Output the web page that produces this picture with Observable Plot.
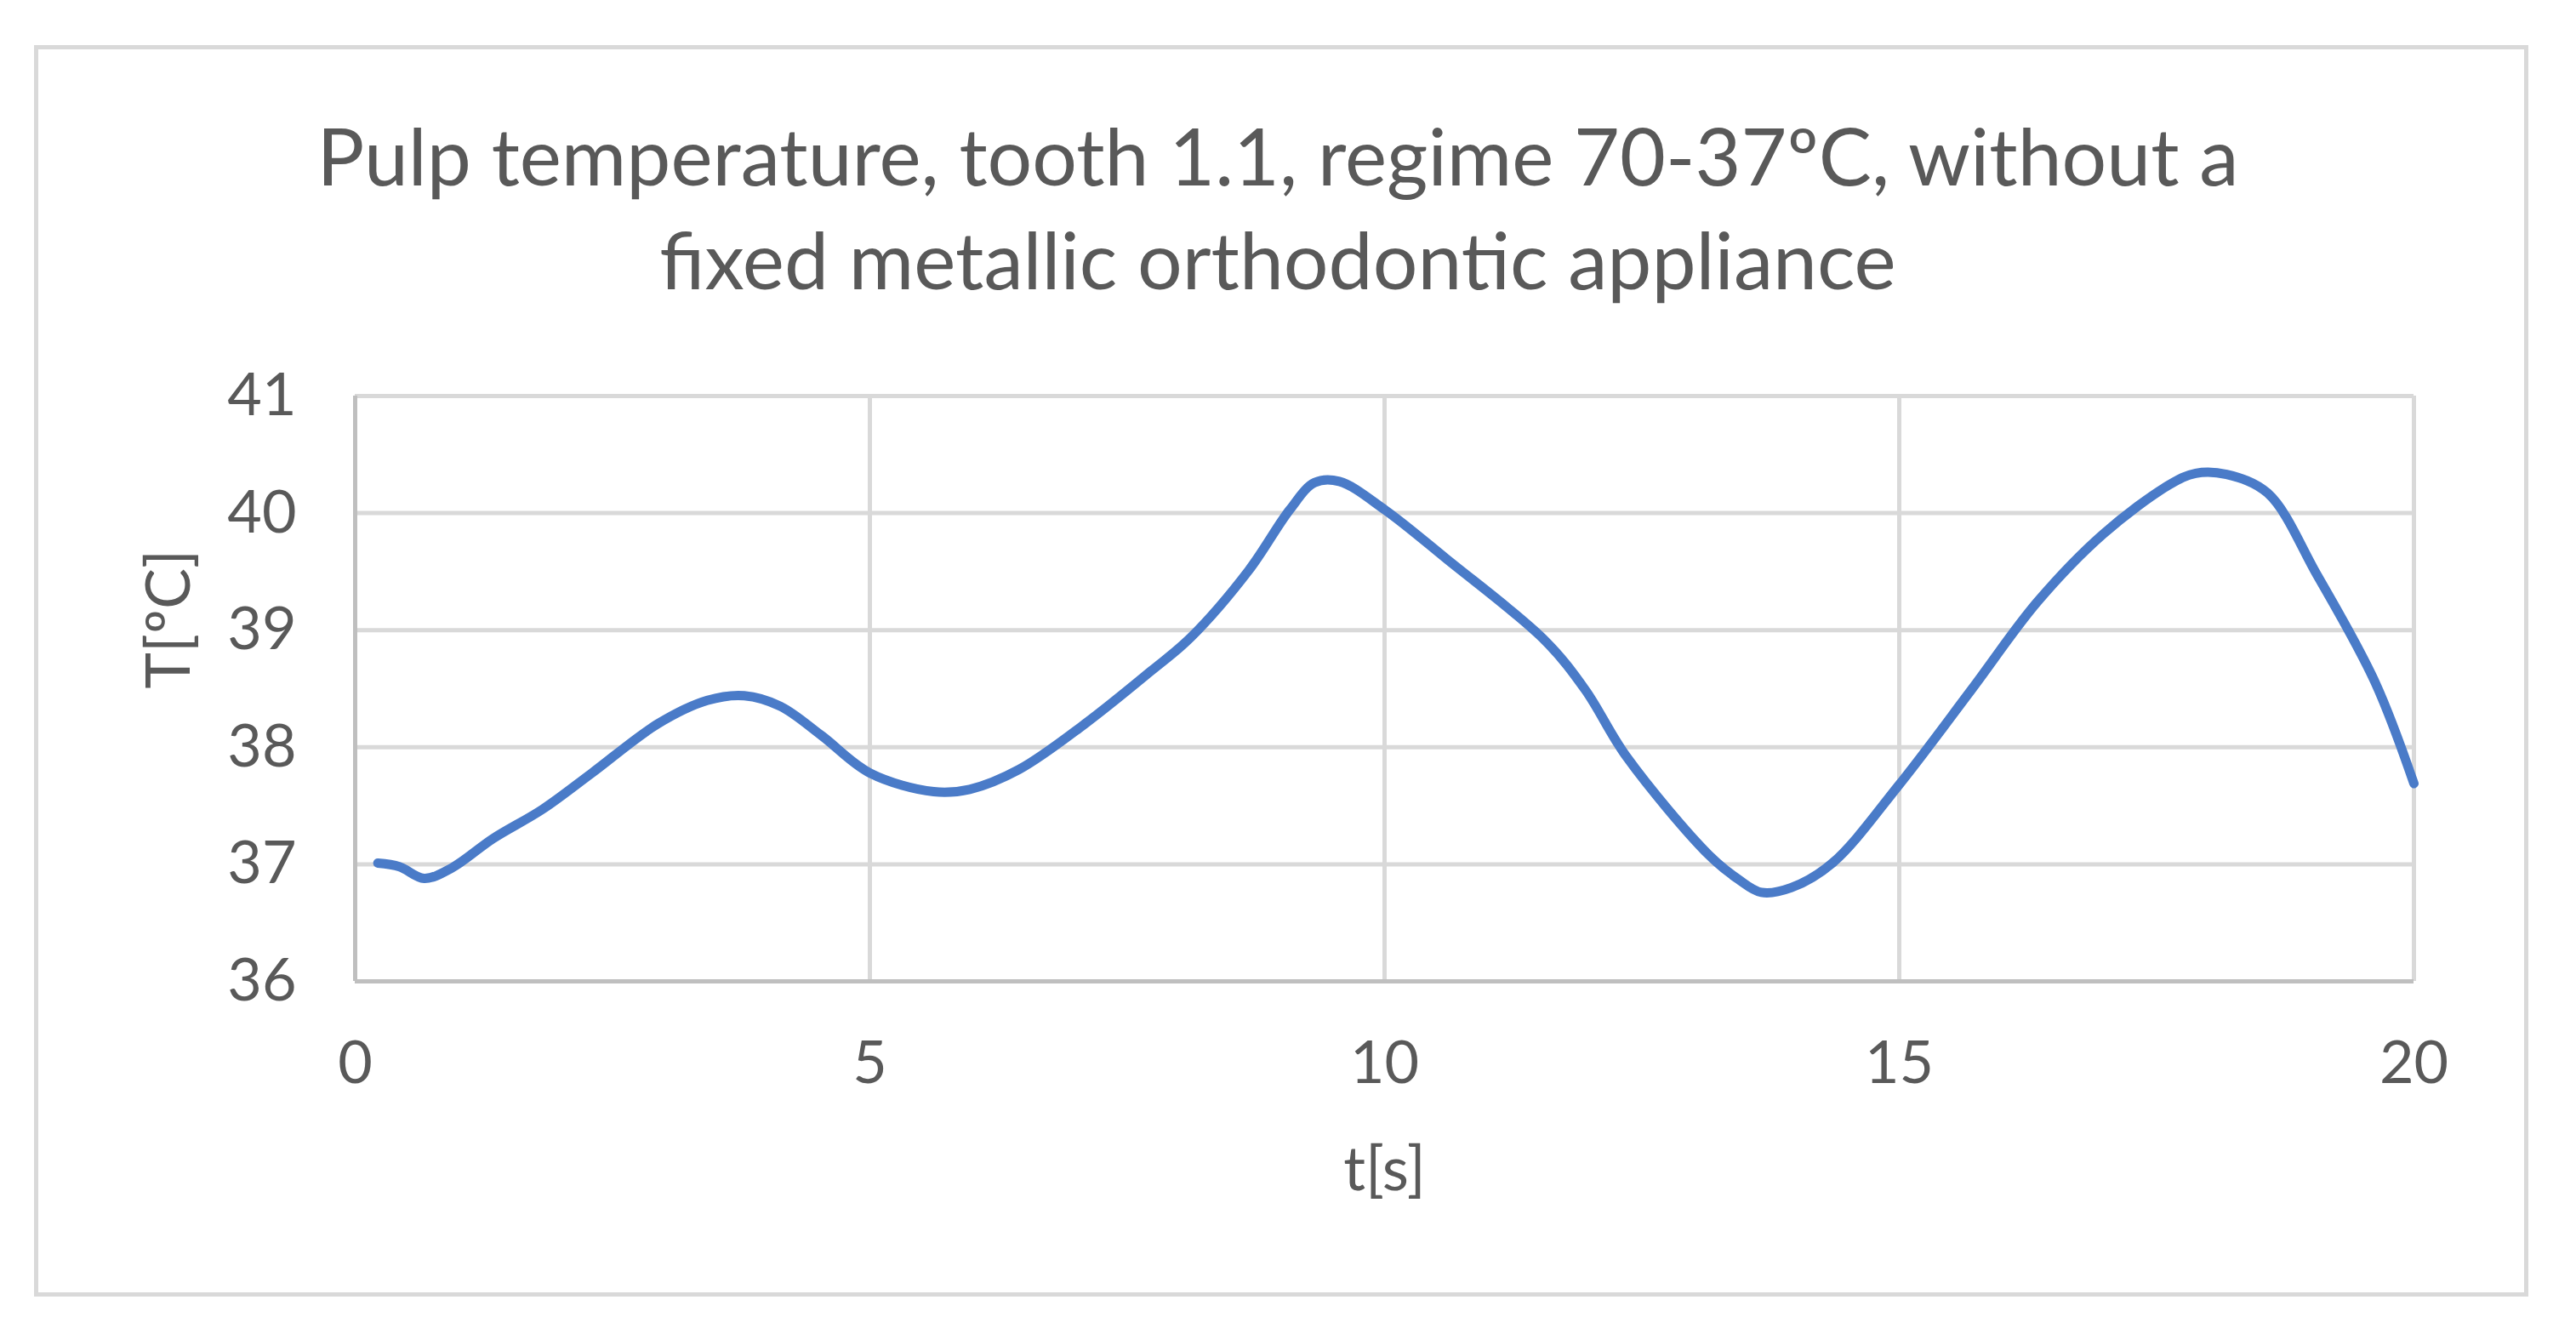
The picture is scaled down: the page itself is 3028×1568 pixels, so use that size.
<!DOCTYPE html>
<html>
<head>
<meta charset="utf-8">
<script src="https://cdn.jsdelivr.net/npm/d3@7"></script>
<script src="https://cdn.jsdelivr.net/npm/@observablehq/plot@0.6"></script>
<style>
  html, body { margin: 0; padding: 0; background: #fff; }
  #page { position: relative; width: 3028px; height: 1568px; overflow: hidden; font-family: Lato, "Open Sans", sans-serif; color: #595959; }
  #frame { position: absolute; left: 40px; top: 53px; width: 2922px; height: 1461px; border: 5px solid #d9d9d9; }
  .title { position: absolute; left: 0; width: 3004px; text-align: center; font-size: 93px; line-height: 1; white-space: nowrap; }
  #chart { position: absolute; left: 0; top: 400px; }
</style>
</head>
<body>
<div id="page">
  <div id="frame"></div>
  <div class="title" style="top:136px">Pulp temperature, tooth 1.1, regime 70-37ºC, without a</div>
  <div class="title" style="top:258px">fixed metallic orthodontic appliance</div>
  <div id="chart"></div>
</div>
<script>
// time [s]
const time = [0.22, 0.43, 0.67, 0.94, 1.34, 1.82, 2.3, 2.94, 3.42, 3.78, 4.13, 4.53, 5.0, 5.62, 5.97, 6.45, 7.09, 7.73, 8.12, 8.68, 9.08, 9.32, 9.56, 10.0, 10.6, 11.56, 11.95, 12.35, 13.15, 13.44, 13.66, 13.95, 14.35, 14.99, 15.7, 16.34, 16.98, 17.62, 17.88, 18.18, 18.58, 19.06, 19.62, 20.0];
// pulp temperature [ºC]
const temperature = [37.01, 36.98, 36.88, 36.97, 37.22, 37.47, 37.78, 38.2, 38.4, 38.44, 38.35, 38.1, 37.78, 37.62, 37.64, 37.81, 38.2, 38.65, 38.94, 39.51, 40.03, 40.26, 40.27, 40.03, 39.61, 38.91, 38.49, 37.92, 37.08, 36.87, 36.76, 36.8, 37.01, 37.67, 38.49, 39.24, 39.82, 40.24, 40.34, 40.33, 40.17, 39.47, 38.56, 37.69];
const xTicks = [0, 5, 10, 15, 20];
const yTicks = [36, 37, 38, 39, 40, 41];
const xLabel = "t[s]";
const yLabel = "T[ºC]";

const data = time.map((t, i) => ({t, T: temperature[i]}));

const chart = Plot.plot({
  width: 3028,
  height: 1100,
  marginTop: 65,
  marginBottom: 347,
  marginLeft: 417,
  marginRight: 191,
  style: {fontFamily: "Lato, 'Open Sans', sans-serif", fontSize: "70px", color: "#595959", background: "transparent"},
  x: {domain: [0, 20]},
  y: {domain: [36, 41]},
  marks: [
    Plot.gridX(xTicks, {stroke: "#d9d9d9", strokeOpacity: 1, strokeWidth: 5}),
    Plot.gridY(yTicks, {stroke: "#d9d9d9", strokeOpacity: 1, strokeWidth: 5}),
    Plot.ruleX([0], {stroke: "#bfbfbf", strokeWidth: 5}),
    Plot.ruleY([36], {stroke: "#bfbfbf", strokeWidth: 5}),
    Plot.axisX(xTicks, {tickSize: 0, tickPadding: 70, tickFormat: "d", fill: "#595959", label: null}),
    Plot.axisY(yTicks, {tickSize: 0, tickPadding: 69, tickFormat: "d", fill: "#595959", label: null}),
    Plot.text([xLabel], {frameAnchor: "bottom", dy: 245, fontSize: 72, fill: "#595959"}),
    Plot.text([yLabel], {frameAnchor: "left", dx: -218, rotate: -90, fontSize: 72, fill: "#595959"}),
    Plot.line(data, {x: "t", y: "T", curve: "catmull-rom", stroke: "#4a7bc8", strokeWidth: 11, strokeLinecap: "round", strokeLinejoin: "round"})
  ]
});
document.getElementById("chart").appendChild(chart);
</script>
</body>
</html>
